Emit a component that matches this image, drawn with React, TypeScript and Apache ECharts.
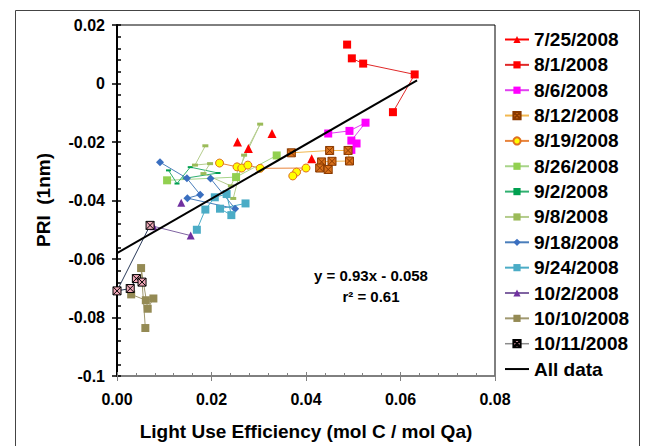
import React, { useEffect, useRef } from "react";
import * as echarts from "echarts";

type P = [number | null, number | null];

const X_TICKS = { min: 0, max: 0.08, interval: 0.02 };
const Y_TICKS = { min: -0.1, max: 0.02, interval: 0.02 };

const d0725: P[] = [[0.0255, -0.02], [null, null], [0.0278, -0.0222], [null, null], [0.0328, -0.0171], [null, null], [0.0412, -0.0257]];
const d0801: P[] = [[0.0487, 0.0133], [null, null], [0.0497, 0.0086], [0.0521, 0.0068], [0.063, 0.0031], [0.0584, -0.0098]];
const d0806: P[] = [[0.0447, -0.0171], [0.0492, -0.0162], [0.0526, -0.0134], [0.0496, -0.0195], [0.0507, -0.0205], [0.0496, -0.0227]];
const d0812: P[] = [[0.0369, -0.0237], [0.045, -0.0229], [0.0489, -0.0229], [0.0492, -0.0265], [0.0455, -0.0266], [0.0433, -0.0268], [0.0429, -0.0289], [0.0447, -0.0294]];
const d0819: P[] = [[0.0217, -0.0272], [0.0254, -0.0285], [0.0264, -0.0289], [0.0277, -0.0279], [0.0303, -0.029], [0.04, -0.0289], [0.038, -0.0303], [0.0372, -0.0316]];
const d0826: P[] = [[0.0106, -0.0331], [0.0252, -0.032], [0.0338, -0.0246]];
const d0902: P[] = [[0.0109, -0.0297], [0.0127, -0.0342], [0.0155, -0.0286], [0.0214, -0.0306], [0.0144, -0.0324]];
const d0908: P[] = [[0.0187, -0.0213], [0.0165, -0.0279], [0.0197, -0.0274], [0.0183, -0.0308], [0.0241, -0.035], [0.0303, -0.0139], [0.0269, -0.0245], [0.0246, -0.0393]];
const d0918: P[] = [[0.0091, -0.0269], [0.0148, -0.0324], [0.0176, -0.038], [0.0149, -0.0392], [0.025, -0.0428], [0.0198, -0.0325]];
const d0924: P[] = [[0.0169, -0.05], [0.0187, -0.0431], [0.0207, -0.0389], [0.0232, -0.0378], [0.0242, -0.045], [0.0218, -0.0428], [0.0272, -0.041]];
const d1002: P[] = [[0.0136, -0.0408], [null, null], [0.0077, -0.0488], [0.0156, -0.052]];
const d1010: P[] = [[0.003, -0.0721], [0.0061, -0.0741], [0.0077, -0.0735], [0.0065, -0.077], [0.0051, -0.0631], [0.006, -0.0836]];
const d1011: P[] = [[0.007, -0.0485], [0.0, -0.0709], [0.0028, -0.0701], [0.0041, -0.0667], [0.0053, -0.0679]];

const SLOPE = 0.93;
const INTERCEPT = -0.058;
const REG_X_RANGE = [0, 0.0635];

const XSQ = "path://M0,0L10,0L10,10L0,10Z M0,0L10,10 M10,0L0,10";
const FONT = "Liberation Sans, Arial, sans-serif";

const SERIES_DEF = [
  { name: "7/25/2008", data: d0725, color: "#FF0000", line: "#FF0000", symbol: "triangle", size: 9 },
  { name: "8/1/2008", data: d0801, color: "#FF0000", line: "#E02828", symbol: "rect", size: 8 },
  { name: "8/6/2008", data: d0806, color: "#FF00FF", line: "#E040F0", symbol: "rect", size: 8 },
  { name: "8/12/2008", data: d0812, color: "#D8701A", line: "#F2B850", symbol: XSQ, size: 8, border: "#8A3A00" },
  { name: "8/19/2008", data: d0819, color: "#FFFF00", line: "#E8843C", symbol: "circle", size: 8, border: "#E07020" },
  { name: "8/26/2008", data: d0826, color: "#92D050", line: "#A8D48A", symbol: "rect", size: 8 },
  { name: "9/2/2008", data: d0902, color: "#00A050", line: "#30B070", symbol: "rect", size: [5, 2] },
  { name: "9/8/2008", data: d0908, color: "#9BBB59", line: "#B4CC8C", symbol: "rect", size: [6, 3] },
  { name: "9/18/2008", data: d0918, color: "#3A6FC0", line: "#4A7EBB", symbol: "diamond", size: 8 },
  { name: "9/24/2008", data: d0924, color: "#4BACC6", line: "#4BACC6", symbol: "rect", size: 8 },
  { name: "10/2/2008", data: d1002, color: "#7030A0", line: "#8064A2", symbol: "triangle", size: 8 },
  { name: "10/10/2008", data: d1010, color: "#948A54", line: "#A09870", symbol: "rect", size: 8 },
  { name: "10/11/2008", data: d1011, color: "#F0A8B8", line: "#2A3A5A", symbol: XSQ, size: 8, border: "#000000" },
];

export default function App() {
  const ref = useRef<HTMLDivElement>(null);
  useEffect(() => {
    document.body.style.margin = "0";
    if (!ref.current) return;
    const chart = echarts.init(ref.current, null, { renderer: "svg" });
    const regData = REG_X_RANGE.map((x) => [x, SLOPE * x + INTERCEPT]);
    const series: any[] = SERIES_DEF.map((s) => ({
      name: s.name,
      type: "line",
      data: s.data,
      symbol: s.symbol,
      symbolSize: s.size,
      showSymbol: true,
      showAllSymbol: true,
      connectNulls: false,
      lineStyle: { color: s.line, width: 1 },
      itemStyle: { color: s.color, borderColor: (s as any).border || s.color, borderWidth: (s as any).border ? 1 : 0 },
      emphasis: { disabled: true },
      z: 3,
    }));
    series.push({
      name: "All data",
      type: "line",
      data: regData,
      showSymbol: false,
      symbol: "none",
      itemStyle: { color: "#000" },
      lineStyle: { color: "#000", width: 2 },
      emphasis: { disabled: true },
      z: 4,
    });
    const axisLabel = { fontSize: 16, fontWeight: "bold", color: "#000", fontFamily: FONT };
    const legendData: any[] = SERIES_DEF.map((s) =>
      s.name === "10/11/2008" ? { name: s.name, lineStyle: { color: "#8C8C8C", width: 1.5 } } : s.name
    );
    legendData.push({ name: "All data", itemStyle: { opacity: 0 }, lineStyle: { color: "#000", width: 2, opacity: 1 } });
    chart.setOption({
      animation: false,
      backgroundColor: "#fff",
      grid: { left: 117, right: 156, top: 25, bottom: 70, show: true, borderColor: "#000", borderWidth: 1, backgroundColor: "transparent" },
      xAxis: [
        {
          type: "value", ...X_TICKS,
          axisLine: { show: true, onZero: false, lineStyle: { color: "#808080", width: 1.5 } },
          axisTick: { show: true, inside: false, length: 5, lineStyle: { color: "#808080" } },
          axisLabel: { ...axisLabel, margin: 15, formatter: (v: number) => v.toFixed(2) },
          splitLine: { show: false },
        },
        {
          type: "value", ...X_TICKS, position: "bottom",
          axisLine: { show: false, onZero: false },
          axisTick: { show: true, inside: true, length: 4, lineStyle: { color: "#808080" } },
          minorTick: { show: true, splitNumber: 5, length: 3, lineStyle: { color: "#808080" } },
          axisLabel: { show: false },
          splitLine: { show: false },
        },
      ],
      yAxis: [
        {
          type: "value", ...Y_TICKS,
          axisLine: { show: true, onZero: false, lineStyle: { color: "#000", width: 2 } },
          axisTick: { show: true, inside: false, length: 5, lineStyle: { color: "#000", width: 1.5 } },
          axisLabel: { ...axisLabel, margin: 12 },
          splitLine: { show: false },
        },
        {
          type: "value", ...Y_TICKS, position: "left",
          axisLine: { show: false, onZero: false },
          axisTick: { show: true, inside: true, length: 4, lineStyle: { color: "#000", width: 1.5 } },
          minorTick: { show: true, splitNumber: 5, length: 4, lineStyle: { color: "#000", width: 1.5 } },
          axisLabel: { show: false },
          splitLine: { show: false },
        },
      ],
      legend: {
        orient: "vertical",
        left: 504,
        top: 30,
        padding: 0,
        itemWidth: 24,
        itemHeight: 9,
        itemGap: 6.35,
        textStyle: { fontSize: 19, fontWeight: "bold", color: "#000", fontFamily: FONT, lineHeight: 18 },
        data: legendData,
        selectedMode: false,
      },
      graphic: [
        { type: "rect", shape: { x: 15.5, y: 10.5, width: 624, height: 460 }, style: { fill: "none", stroke: "#444", lineWidth: 1 }, silent: true, z: -1 },
        { type: "text", x: 306, y: 431, style: { text: "Light Use Efficiency (mol C / mol Qa)", font: `bold 19px ${FONT}`, fill: "#000", textAlign: "center", textVerticalAlign: "middle" } },
        { type: "text", x: 43, y: 200, rotation: Math.PI / 2, style: { text: "PRI  (1nm)", font: `bold 19px ${FONT}`, fill: "#000", textAlign: "center", textVerticalAlign: "middle" } },
        { type: "text", x: 371, y: 275, style: { text: "y = 0.93x - 0.058", font: `bold 15px ${FONT}`, fill: "#000", textAlign: "center", textVerticalAlign: "middle" } },
        { type: "text", x: 371, y: 296, style: { text: "r\u00B2 = 0.61", font: `bold 15px ${FONT}`, fill: "#000", textAlign: "center", textVerticalAlign: "middle" } },
      ],
      series,
    });
    return () => chart.dispose();
  }, []);
  return <div ref={ref} style={{ width: 651, height: 446 }} />;
}
